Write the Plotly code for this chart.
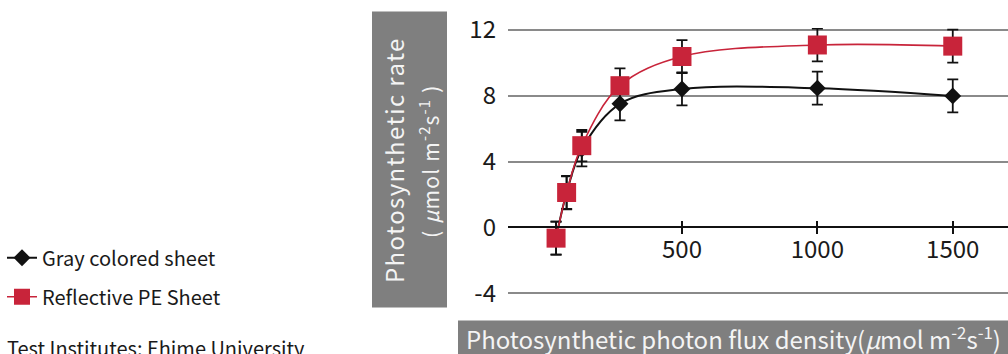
import plotly.graph_objects as go

# ---- data ----
ppfd = [35, 74, 130, 271, 500, 1000, 1500]
gray_rate = [-0.65, 2.1, 4.75, 7.5, 8.4, 8.45, 7.98]
gray_err = [1.0, 1.0, 1.05, 1.0, 1.0, 1.0, 1.0]
pe_rate = [-0.65, 2.12, 4.96, 8.6, 10.37, 11.07, 11.0]
pe_err = [1.0, 1.0, 0.95, 1.05, 1.0, 1.0, 1.0]
series_names = ["Gray colored sheet", "Reflective PE Sheet"]
x_ticks = [500, 1000, 1500]
y_ticks = [-4, 0, 4, 8, 12]
y_ticktext = ["-4", "0", "4", "8", "12"]

FONT = "Noto Sans CJK JP"
RED = "#c8243a"
BLACK = "#111111"
W, H = 1008, 354
Y_RANGE = [-4.1, 12.1]
X_RANGE = [-142.5, 1704]
PX_PER_UNIT = 263 / 16
L, R = 508, 0
T = 30 - (Y_RANGE[1] - 12) * PX_PER_UNIT
B = (H - 293) - (-4 - Y_RANGE[0]) * PX_PER_UNIT
PW, PH = W - L - R, H - T - B

def px_x(p):
    return (p - L) / PW

def px_y(p):
    return (H - B - p) / PH

fig = go.Figure()
fig.add_trace(go.Scatter(
    x=ppfd, y=gray_rate, name=series_names[0], legendgroup="g",
    mode="lines+markers", line=dict(color=BLACK, width=2, shape="spline", smoothing=1.0),
    marker=dict(symbol="diamond", size=13, color=BLACK),
    error_y=dict(type="data", array=gray_err, color=BLACK, thickness=1.8, width=5.5),
    cliponaxis=False,
))
fig.add_trace(go.Scatter(
    x=ppfd, y=pe_rate, name=series_names[1], legendgroup="r",
    mode="lines+markers", line=dict(color=RED, width=1.6, shape="spline", smoothing=1.0),
    marker=dict(symbol="square", size=19, color=RED),
    error_y=dict(type="data", array=pe_err, color=BLACK, thickness=1.8, width=5.5),
    cliponaxis=False,
))

zero_pos = (0 - Y_RANGE[0]) / (Y_RANGE[1] - Y_RANGE[0])
fig.update_layout(
    width=W, height=H,
    margin=dict(l=L, r=R, t=T, b=B, pad=0),
    paper_bgcolor="white", plot_bgcolor="white",
    font=dict(family=FONT, color="#1a1a1a"),
    showlegend=True,
    legend=dict(x=px_x(2), y=px_y(238), xanchor="left", yanchor="top",
                font=dict(size=20, family=FONT, color="#1a1a1a"),
                tracegroupgap=10, traceorder="grouped", bgcolor="rgba(0,0,0,0)"),
    xaxis=dict(range=X_RANGE, anchor="free", position=zero_pos,
               tickvals=x_ticks, ticks="outside", ticklen=6, tickwidth=1.8, tickcolor=BLACK,
               showline=True, linecolor=BLACK, linewidth=2, showgrid=False, zeroline=False,
               tickfont=dict(size=24, color="#1a1a1a"), ticklabelstandoff=-5, fixedrange=True),
    xaxis2=dict(range=X_RANGE, overlaying="x", anchor="free", position=zero_pos,
                tickvals=x_ticks, ticks="inside", ticklen=6, tickwidth=1.8, tickcolor=BLACK,
                showticklabels=False, showgrid=False, zeroline=False, showline=False),
    yaxis=dict(range=Y_RANGE, tickvals=y_ticks, ticktext=y_ticktext,
               showgrid=True, gridcolor="#8a8a8a", gridwidth=2,
               zeroline=False, showline=False, ticks="",
               tickfont=dict(size=24, color="#1a1a1a"), ticklabelstandoff=11),
)
# dummy trace for xaxis2 so it renders
fig.add_trace(go.Scatter(x=[x_ticks[0]], y=[None], xaxis="x2", showlegend=False, hoverinfo="skip"))

# y-axis title box
fig.add_shape(type="rect", xref="paper", yref="paper",
              x0=px_x(372), x1=px_x(447), y0=px_y(307), y1=px_y(12),
              fillcolor="#7f7f7f", line=dict(width=0), layer="below")
fig.add_annotation(xref="paper", yref="paper", x=px_x(394), y=px_y(160),
                   xanchor="center", yanchor="middle",
                   text="<span style='letter-spacing:1.4px'>Photosynthetic rate</span>",
                   textangle=-90, showarrow=False, font=dict(size=24, color="#f4f4f4", family=FONT))
fig.add_annotation(xref="paper", yref="paper", x=px_x(429), y=px_y(162),
                   xanchor="center", yanchor="middle",
                   text="<span style='letter-spacing:1.2px'>( <i>μ</i>mol m<sup>-2</sup>s<sup>-1</sup> )</span>",
                   textangle=-90, showarrow=False, font=dict(size=21, color="#f4f4f4", family=FONT))
# x-axis title box
fig.add_shape(type="rect", xref="paper", yref="paper",
              x0=px_x(458), x1=px_x(1010), y0=px_y(356), y1=px_y(320),
              fillcolor="#7f7f7f", line=dict(width=0), layer="below")
fig.add_annotation(xref="paper", yref="paper", x=px_x(464), y=px_y(338),
                   xanchor="left", yanchor="middle",
                   text="Photosynthetic photon flux density(<i>μ</i>mol m<sup>-2</sup>s<sup>-1</sup>)",
                   showarrow=False, font=dict(size=24, color="#f4f4f4", family=FONT))
# institute note
fig.add_annotation(xref="paper", yref="paper", x=px_x(5), y=px_y(347),
                   xanchor="left", yanchor="middle",
                   text="Test Institutes: Ehime University",
                   showarrow=False, font=dict(size=20, color="#1a1a1a", family=FONT))

fig.write_html("out.html", config={"displayModeBar": False},
               post_script="document.body.style.margin='0';document.body.style.overflow='hidden';")
